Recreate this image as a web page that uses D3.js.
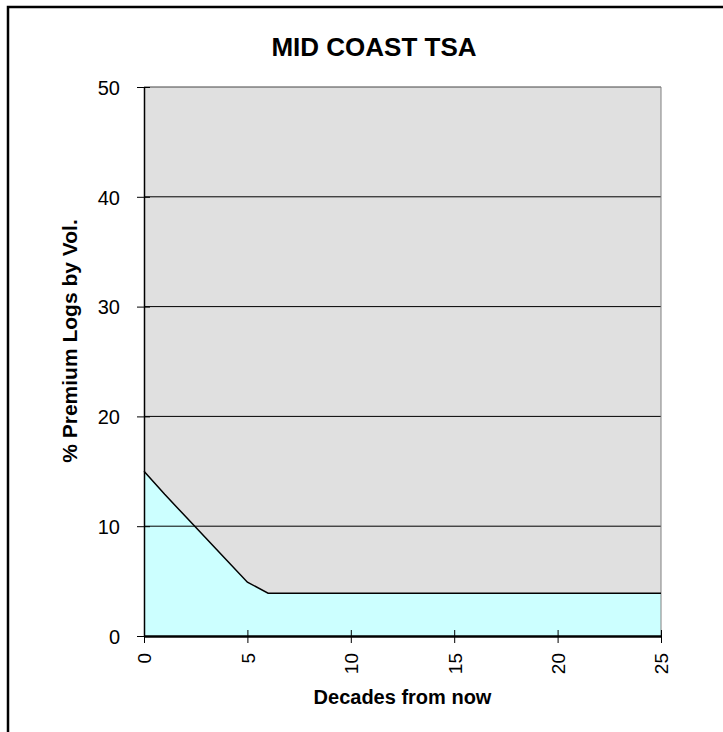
<!DOCTYPE html>
<html>
<head>
<meta charset="utf-8">
<script src="https://cdn.jsdelivr.net/npm/d3@7"></script>
<style>
  body { margin: 0; background: #fff; }
  text { font-family: "Liberation Sans", Arial, sans-serif; }
</style>
</head>
<body>
<div id="here"></div>
<script>
  var w = 723, h = 732;

  // decades from now and % premium logs by volume
  var decades = d3.range(0, 26);
  var premium = [15, 12.9, 10.9, 8.9, 6.9, 4.9, 3.9, 3.9, 3.9, 3.9, 3.9, 3.9, 3.9,
                 3.9, 3.9, 3.9, 3.9, 3.9, 3.9, 3.9, 3.9, 3.9, 3.9, 3.9, 3.9, 3.9];
  var xTicks = [0, 5, 10, 15, 20, 25];
  var yTicks = [0, 10, 20, 30, 40, 50];

  var data = decades.map(function(d, i) { return {x: d, y: premium[i]}; });

  var pLeft = 144, pRight = 661, pTop = 87, pBottom = 636;

  var x = d3.scaleLinear().domain([0, 25]).range([pLeft, pRight]);
  var y = d3.scaleLinear().domain([0, 50]).range([pBottom, pTop]);

  var svg = d3.select('#here').append("svg")
    .attr("width", w)
    .attr("height", h);

  // outer frame (runs off the right and bottom edges)
  svg.append("rect")
    .attr("x", 8).attr("y", 7)
    .attr("width", 800).attr("height", 800)
    .attr("fill", "#fff")
    .attr("stroke", "#000")
    .attr("stroke-width", 2.5);

  // plot background
  svg.append("rect")
    .attr("x", pLeft).attr("y", pTop)
    .attr("width", pRight - pLeft).attr("height", pBottom - pTop)
    .attr("fill", "#e0e0e0");

  // area
  var area = d3.area()
    .x(function(d) { return x(d.x); })
    .y0(y(0))
    .y1(function(d) { return y(d.y); });
  svg.append("path")
    .datum(data)
    .attr("d", area)
    .attr("fill", "#ccffff");

  // gridlines
  svg.selectAll(".grid")
    .data(yTicks.filter(function(d) { return d > 0; }))
    .enter().append("line")
    .attr("x1", pLeft).attr("x2", pRight)
    .attr("y1", function(d) { return y(d); })
    .attr("y2", function(d) { return y(d); })
    .attr("stroke", function(d) { return d == 50 ? "#444" : "#000"; })
    .attr("stroke-width", 1);

  // right border
  svg.append("line")
    .attr("x1", pRight).attr("x2", pRight)
    .attr("y1", pTop).attr("y2", pBottom)
    .attr("stroke", "#808080");

  // line
  var line = d3.line()
    .x(function(d) { return x(d.x); })
    .y(function(d) { return y(d.y); });
  svg.append("path")
    .datum(data)
    .attr("d", line)
    .attr("fill", "none")
    .attr("stroke", "#000")
    .attr("stroke-width", 1.5);

  // y axis
  var yAxis = d3.axisLeft(y).tickValues(yTicks).tickSizeInner(7).tickSizeOuter(0).tickPadding(17);
  var gy = svg.append("g")
    .attr("transform", "translate(" + pLeft + ",0)")
    .call(yAxis);
  gy.select(".domain").attr("stroke", "#000").attr("stroke-width", 1.5);
  gy.selectAll(".tick line").attr("x1", 6).attr("x2", -7);
  gy.selectAll(".tick text")
    .attr("dy", "0.36em")
    .style("font-size", "20px")
    .attr("fill", "#000");

  // x axis
  var xAxis = d3.axisBottom(x).tickValues(xTicks).tickSizeInner(7).tickSizeOuter(0);
  var gx = svg.append("g")
    .attr("transform", "translate(0," + pBottom + ")")
    .call(xAxis);
  gx.select(".domain").attr("stroke", "#000").attr("stroke-width", 2.5);
  gx.selectAll(".tick line").attr("y1", -6).attr("y2", 7);
  gx.selectAll(".tick text")
    .attr("transform", "translate(0,17) rotate(-90)")
    .attr("x", 0).attr("y", 0)
    .attr("dy", "0.36em")
    .style("text-anchor", "end")
    .style("font-size", "19px")
    .attr("fill", "#000");

  // titles
  svg.append("text")
    .attr("x", 374).attr("y", 56)
    .style("text-anchor", "middle")
    .style("font-size", "26px")
    .style("font-weight", "bold")
    .text("MID COAST TSA");

  svg.append("text")
    .attr("x", (pLeft + pRight) / 2).attr("y", 704)
    .style("text-anchor", "middle")
    .style("font-size", "20px")
    .style("font-weight", "bold")
    .text("Decades from now");

  svg.append("text")
    .attr("transform", "translate(77,341) rotate(-90)")
    .style("text-anchor", "middle")
    .style("font-size", "21px")
    .style("font-weight", "bold")
    .text("% Premium Logs by Vol.");
</script>
</body>
</html>
